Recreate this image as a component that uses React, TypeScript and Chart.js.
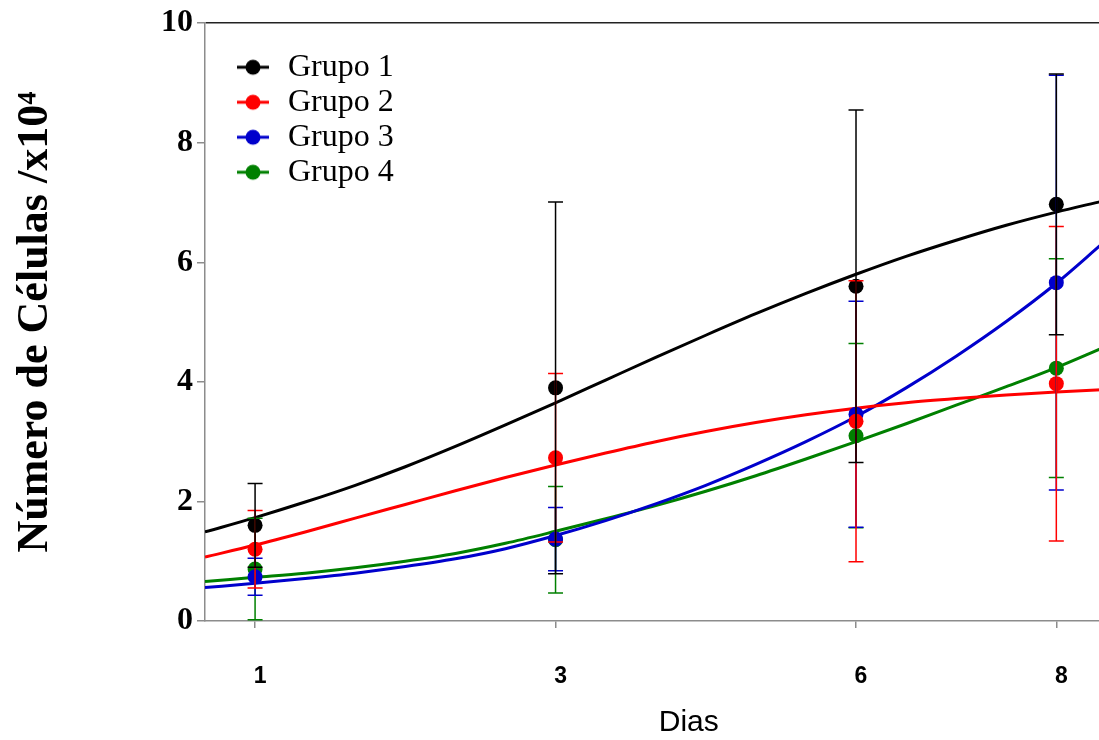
import React, { useEffect, useRef } from "react";
import { Chart, registerables } from "chart.js";

Chart.register(...registerables);

// ---- Data ----
const dayLabels = ["1", "3", "6", "8"];
const dayPositions = [0, 3, 6, 8];

const groupNames = ["Grupo 1", "Grupo 2", "Grupo 3", "Grupo 4"];
const groupColors = ["#000000", "#ff0000", "#0000cc", "#008000"];

const mean1 = [1.6, 3.9, 5.6, 6.97];
const mean2 = [1.2, 2.73, 3.34, 3.97];
const mean3 = [0.74, 1.37, 3.46, 5.66];
const mean4 = [0.87, 1.36, 3.1, 4.23];

const err1 = [0.7, 3.11, 2.95, 2.18];
const err2 = [0.65, 1.41, 2.35, 2.63];
const err3 = [0.31, 0.53, 1.89, 3.47];
const err4 = [0.85, 0.89, 1.54, 1.83];

// fitted curves
const curveX = [-0.5, 0, 0.5, 1, 1.5, 2, 2.5, 3, 3.5, 4, 4.5, 5, 5.5, 6, 6.5, 7, 7.5, 8, 8.45];
const curve1 = [1.49, 1.73, 1.99, 2.27, 2.58, 2.92, 3.28, 3.65, 4.03, 4.41, 4.78, 5.14, 5.48, 5.8, 6.1, 6.37, 6.62, 6.84, 7.02];
const curve2 = [1.07, 1.27, 1.49, 1.72, 1.95, 2.18, 2.4, 2.61, 2.81, 3.0, 3.17, 3.32, 3.45, 3.56, 3.65, 3.72, 3.78, 3.83, 3.87];
const curve3 = [0.56, 0.63, 0.71, 0.8, 0.91, 1.04, 1.21, 1.43, 1.68, 1.96, 2.27, 2.62, 3.0, 3.42, 3.9, 4.43, 5.01, 5.65, 6.3];
const curve4 = [0.66, 0.73, 0.8, 0.89, 1.0, 1.13, 1.3, 1.5, 1.71, 1.93, 2.17, 2.43, 2.71, 3.0, 3.3, 3.61, 3.92, 4.24, 4.56];

const yMin = 0;
const yMax = 10;
const yStep = 2;

const xTitle = "Dias";
const yTitle = "Número de Células /x10⁴";

const means = [mean1, mean2, mean3, mean4];
const errs = [err1, err2, err3, err4];
const curves = [curve1, curve2, curve3, curve4];

const SERIF = "'Liberation Serif', 'Times New Roman', serif";
const SANS = "'Liberation Sans', Arial, sans-serif";
const AXIS_GRAY = "#8c8c8c";

function makeMarker(color: string): HTMLCanvasElement {
  const c = document.createElement("canvas");
  c.width = 32;
  c.height = 18;
  const g = c.getContext("2d")!;
  g.strokeStyle = color;
  g.lineWidth = 3;
  g.beginPath();
  g.moveTo(0, 9);
  g.lineTo(32, 9);
  g.stroke();
  g.fillStyle = color;
  g.beginPath();
  g.arc(16, 9, 7.5, 0, Math.PI * 2);
  g.fill();
  return c;
}

const errorBarPlugin = {
  id: "errorBars",
  afterDatasetsDraw(chart: any) {
    const { ctx } = chart;
    const x = chart.scales.x;
    const y = chart.scales.y;
    ctx.save();
    ctx.lineWidth = 1.5;
    for (let g = means.length - 1; g >= 0; g--) {
      ctx.strokeStyle = groupColors[g];
      dayPositions.forEach((p, i) => {
        const px = x.getPixelForValue(p);
        const top = y.getPixelForValue(means[g][i] + errs[g][i]);
        const bot = y.getPixelForValue(means[g][i] - errs[g][i]);
        ctx.beginPath();
        ctx.moveTo(px, top);
        ctx.lineTo(px, bot);
        ctx.moveTo(px - 7.5, top);
        ctx.lineTo(px + 7.5, top);
        ctx.moveTo(px - 7.5, bot);
        ctx.lineTo(px + 7.5, bot);
        ctx.stroke();
      });
    }
    ctx.restore();
  },
};

const legendPlacer = {
  id: "legendPlacer",
  afterLayout(chart: any) {
    const lg = chart.legend;
    if (!lg) return;
    const w = lg.width;
    const h = lg.height;
    lg.left = chart.chartArea.left + 26;
    lg.top = chart.chartArea.top + 25;
    lg.right = lg.left + w;
    lg.bottom = lg.top + h;
  },
};

export default function App() {
  const ref = useRef<HTMLCanvasElement>(null);

  useEffect(() => {
    const canvas = ref.current;
    if (!canvas) return;
    const markers = groupColors.map((c) => makeMarker(c));

    const pointSets = groupNames.map((name, g) => ({
      type: "line" as const,
      label: name,
      data: dayPositions.map((p, i) => ({ x: p, y: means[g][i] })),
      showLine: false,
      pointRadius: 7.5,
      pointHoverRadius: 7.5,
      pointBorderWidth: 0,
      pointBackgroundColor: groupColors[g],
      backgroundColor: groupColors[g],
      borderColor: groupColors[g],
    }));
    const curveSets = groupNames.map((name, g) => ({
      type: "line" as const,
      label: name + " (ajuste)",
      data: curveX.map((xv, i) => ({ x: xv, y: curves[g][i] })),
      borderColor: groupColors[g],
      backgroundColor: groupColors[g],
      borderWidth: 3,
      pointRadius: 0,
      pointHoverRadius: 0,
      cubicInterpolationMode: "monotone" as const,
      fill: false,
    }));

    const chart = new Chart(canvas, {
      type: "line",
      data: { datasets: [...pointSets, ...curveSets] as any },
      plugins: [errorBarPlugin, legendPlacer],
      options: {
        animation: false,
        responsive: false,
        devicePixelRatio: 1,
        events: [],
        layout: { padding: { top: 22, left: 0, right: 0, bottom: 0 } },
        plugins: {
          tooltip: { enabled: false },
          legend: {
            display: true,
            position: "chartArea" as any,
            align: "start",
            fullSize: false,
            labels: {
              usePointStyle: true,
              pointStyleWidth: 38,
              padding: 3,
              color: "#000",
              font: { family: SERIF, size: 32 },
              generateLabels: () =>
                groupNames.map((name, i) => ({
                  text: name,
                  pointStyle: markers[i] as any,
                  fillStyle: groupColors[i],
                  strokeStyle: groupColors[i],
                  lineWidth: 0,
                  hidden: false,
                  datasetIndex: i,
                  fontColor: "#000",
                })),
            },
          },
        },
        scales: {
          x: {
            type: "linear",
            min: -0.5,
            max: 9.16,
            afterBuildTicks: (s: any) => {
              s.ticks = dayPositions.map((v) => ({ value: v }));
            },
            afterFit: (s: any) => {
              s.height = 119;
            },
            ticks: {
              autoSkip: false,
              maxRotation: 0,
              minRotation: 0,
              padding: 35,
              labelOffset: 5,
              color: "#000",
              font: { family: SANS, size: 23, weight: "bold" },
              callback: (v: any) => {
                const i = dayPositions.indexOf(Number(v));
                return i >= 0 ? dayLabels[i] : "";
              },
            },
            grid: {
              drawOnChartArea: false,
              tickColor: AXIS_GRAY,
              tickLength: 7,
              lineWidth: 1.5,
            },
            border: { color: AXIS_GRAY, width: 1.5 },
            title: {
              display: true,
              text: xTitle,
              color: "#000",
              font: { family: SANS, size: 30 },
              padding: { top: 0, bottom: -1 },
            },
          },
          y: {
            min: yMin,
            max: yMax,
            afterFit: (s: any) => {
              s.width = 205;
            },
            ticks: {
              stepSize: yStep,
              padding: 4,
              color: "#000",
              font: { family: SERIF, size: 32, weight: "bold" },
            },
            grid: {
              drawOnChartArea: true,
              color: (c: any) => (c.tick && c.tick.value === yMax ? "#222222" : "rgba(0,0,0,0)"),
              tickColor: AXIS_GRAY,
              tickLength: 8,
              lineWidth: 1.5,
            },
            border: { color: AXIS_GRAY, width: 1.5 },
            title: {
              display: true,
              text: yTitle,
              color: "#000",
              font: { family: SERIF, size: 44, weight: "bold" },
              padding: { top: 9, bottom: 0 },
            },
          },
        },
      } as any,
    });
    return () => chart.destroy();
  }, []);

  return (
    <div
      style={{
        position: "absolute",
        left: 0,
        top: 0,
        width: 1099,
        height: 740,
        overflow: "hidden",
        background: "#fff",
      }}
    >
      <canvas ref={ref} width={1180} height={740} style={{ display: "block", width: 1180, height: 740 }} />
    </div>
  );
}
